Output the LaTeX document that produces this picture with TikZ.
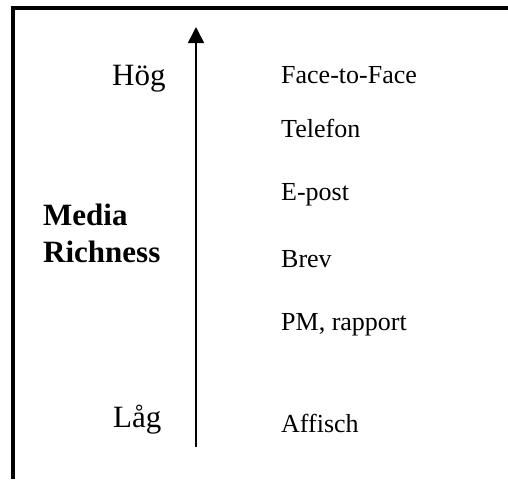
\documentclass[tikz,border=0pt]{standalone}
\usepackage{fontspec}
\setmainfont{Liberation Serif}
\usetikzlibrary{arrows.meta,positioning}
\tikzset{every node/.style={inner sep=0pt,anchor=base west}}
\tikzset{level/.style={font=\fontsize{31}{37}\selectfont}}
\tikzset{medium/.style={font=\fontsize{26}{31}\selectfont}}
\tikzset{axisname/.style={font=\fontsize{31}{37}\selectfont\bfseries}}
\begin{document}
\begin{tikzpicture}[x=1pt,y=-1pt]
\useasboundingbox (0,0) rectangle (508,479);
% frame
\draw[line width=3.5pt] (13,479) -- (13,8) -- (508,8);
%
\node (hoeg) [level] at (112,85) {Hög};
\node (laag) [level] at (113,427) {Låg};
\node (media) [axisname] at (43,225) {Media};
\node (rich) [axisname] at (43,262) {Richness};
%
\node (ftf) [medium] at (281,83) {Face-to-Face};
\node (tel) [medium] at (281,137) {Telefon};
\node (epost) [medium] at (281,200) {E-post};
\node (brev) [medium] at (281,267) {Brev};
\node (pm) [medium] at (281,330) {PM, rapport};
\node (aff) [medium] at (281,432) {Affisch};
%
\coordinate (low) at (196,447);
\coordinate (high) at (196,27);
\path[-{Triangle[length=16pt,width=16pt]},line width=1.5pt] (low) edge (high);
\end{tikzpicture}
\end{document}
